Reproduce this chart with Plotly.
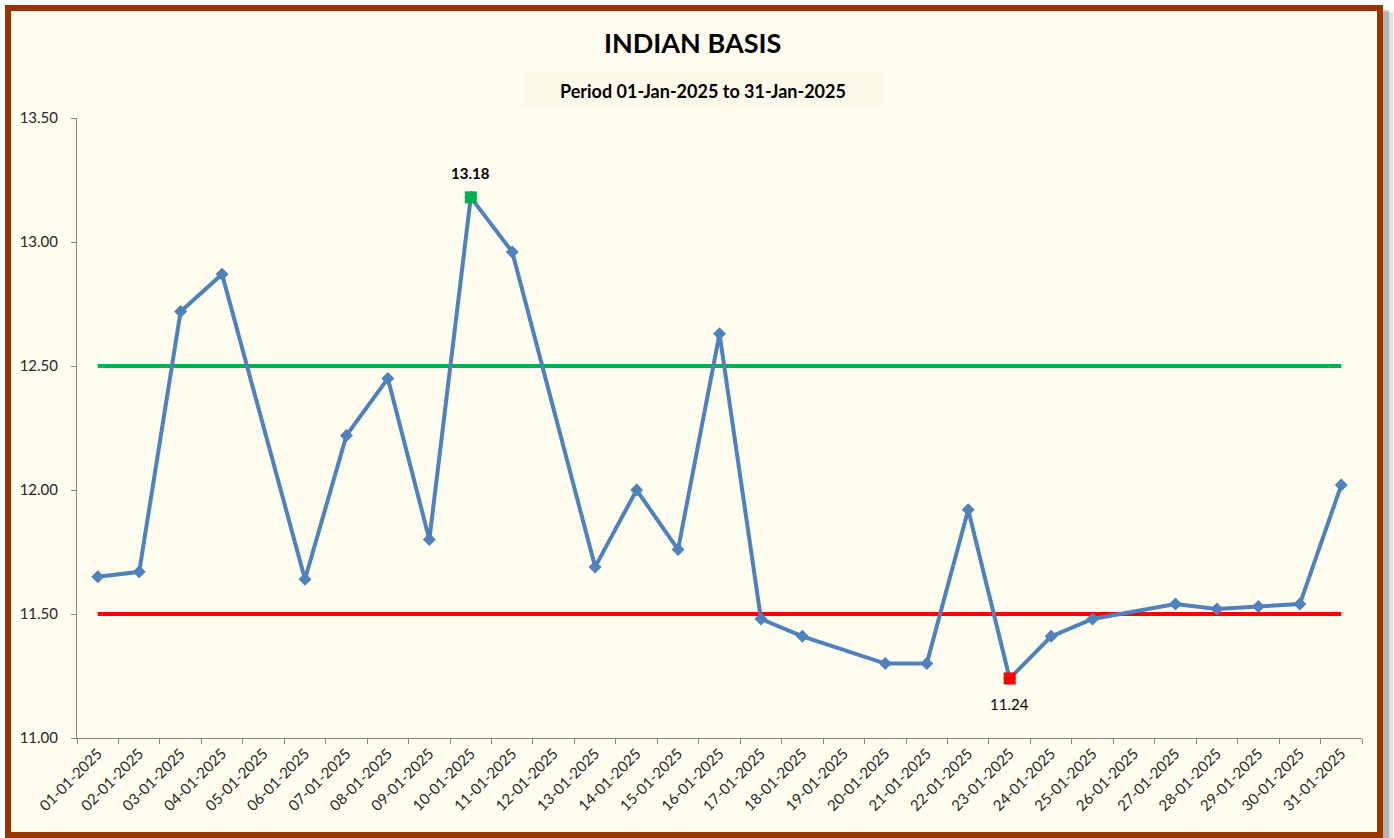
import plotly.graph_objects as go

# Daily Indian basis, January 2025 (None = no quote for that day)
dates = [f"{d:02d}-01-2025" for d in range(1, 32)]
basis = [
    11.65, 11.67, 12.72, 12.87, None, 11.64, 12.22, 12.45, 11.80, 13.18,
    12.96, None, 11.69, 12.00, 11.76, 12.63, 11.48, 11.41, None, 11.30,
    11.30, 11.92, 11.24, 11.41, 11.48, None, 11.54, 11.52, 11.53, 11.54,
    12.02,
]
upper_level = [12.50] * len(dates)
lower_level = [11.50] * len(dates)

W, H = 1394, 838
ML, MR, MT, MB = 77, 32, 118, 100
PW, PH = W - ML - MR, H - MT - MB


def px(x):
    """pixel x -> paper x"""
    return (x - ML) / PW


def py(y):
    """pixel y (from top) -> paper y"""
    return 1 - (y - MT) / PH


valid = [(d, v) for d, v in zip(dates, basis) if v is not None]
max_d, max_v = max(valid, key=lambda t: t[1])
min_d, min_v = min(valid, key=lambda t: t[1])

FONT = "Lato, 'Open Sans', sans-serif"
BLUE = "#4F81BD"
GREEN = "#00B050"
RED = "#FF0000"

fig = go.Figure()

fig.add_trace(go.Scatter(x=dates, y=upper_level, mode="lines",
                         line=dict(color=GREEN, width=4), name="Upper"))
fig.add_trace(go.Scatter(x=dates, y=lower_level, mode="lines",
                         line=dict(color=RED, width=4), name="Lower"))
fig.add_trace(go.Scatter(
    x=dates, y=basis, mode="lines+markers", connectgaps=True,
    line=dict(color=BLUE, width=4),
    marker=dict(symbol="diamond", size=10, color=BLUE),
    name="Basis",
))

# max / min markers
fig.add_trace(go.Scatter(x=[max_d], y=[max_v], mode="markers",
                         marker=dict(symbol="square", size=12, color=GREEN)))
fig.add_trace(go.Scatter(x=[min_d], y=[min_v], mode="markers",
                         marker=dict(symbol="square", size=12, color=RED)))

# frame: shadow, brown border on cream, subtitle box
shapes = [
    dict(type="rect", xref="paper", yref="paper",
         x0=px(12), x1=px(1393), y0=py(840), y1=py(12),
         fillcolor="rgba(0,0,0,0.12)", line=dict(width=0), layer="below"),
    dict(type="rect", xref="paper", yref="paper",
         x0=px(10), x1=px(1389), y0=py(840), y1=py(10),
         fillcolor="rgba(0,0,0,0.2)", line=dict(width=0), layer="below"),
    dict(type="rect", xref="paper", yref="paper",
         x0=px(8), x1=px(1380), y0=py(835), y1=py(8),
         fillcolor="#FFFCF0", line=dict(color="#993300", width=6), layer="below"),
    dict(type="rect", xref="paper", yref="paper",
         x0=px(523), x1=px(883), y0=py(108), y1=py(72),
         fillcolor="#FDF9EB", line=dict(width=0), layer="below"),
]

annotations = [
    dict(text="<b>INDIAN BASIS</b>", xref="paper", yref="paper",
         x=px(692), y=py(42), xanchor="center", yanchor="middle", showarrow=False,
         font=dict(size=27, color="#000000", family=FONT)),
    dict(text="<b>Period 01-Jan-2025 to 31-Jan-2025</b>", xref="paper", yref="paper",
         x=px(703), y=py(91), xanchor="center", yanchor="middle", showarrow=False,
         font=dict(size=18, color="#000000", family=FONT)),
    dict(text=f"<b>{max_v:.2f}</b>", x=max_d, y=max_v, xref="x", yref="y",
         showarrow=False, yshift=24, xanchor="center", yanchor="middle",
         font=dict(size=15, color="#000000", family=FONT)),
    dict(text=f"{min_v:.2f}", x=min_d, y=min_v, xref="x", yref="y",
         showarrow=False, yshift=-26, xanchor="center", yanchor="middle",
         font=dict(size=15, color="#000000", family=FONT)),
]

fig.update_layout(
    width=W, height=H,
    margin=dict(l=ML, r=MR, t=MT, b=MB),
    paper_bgcolor="#FFFFFF",
    plot_bgcolor="rgba(0,0,0,0)",
    showlegend=False,
    shapes=shapes,
    annotations=annotations,
    font=dict(family=FONT, color="#262626"),
)

fig.update_xaxes(
    type="category", categoryorder="array", categoryarray=dates,
    range=[-0.5, len(dates) - 0.5],
    tickson="boundaries", ticks="outside", ticklen=5, tickcolor="#868686",
    showline=True, linecolor="#868686", linewidth=1,
    showgrid=False, zeroline=False,
    tickangle=-45, tickfont=dict(size=15, color="#262626"),
)
fig.update_yaxes(
    range=[11.0, 13.5], dtick=0.5, tickformat=".2f",
    ticks="outside", ticklen=5, tickcolor="#868686",
    showline=True, linecolor="#868686", linewidth=1,
    showgrid=False, zeroline=False, ticklabelstandoff=10,
    tickfont=dict(size=15, color="#262626"),
)

# page body margin would shift the fixed-size figure
fig.write_html("out.html", config={"displayModeBar": False},
               post_script="document.body.style.margin='0';")
